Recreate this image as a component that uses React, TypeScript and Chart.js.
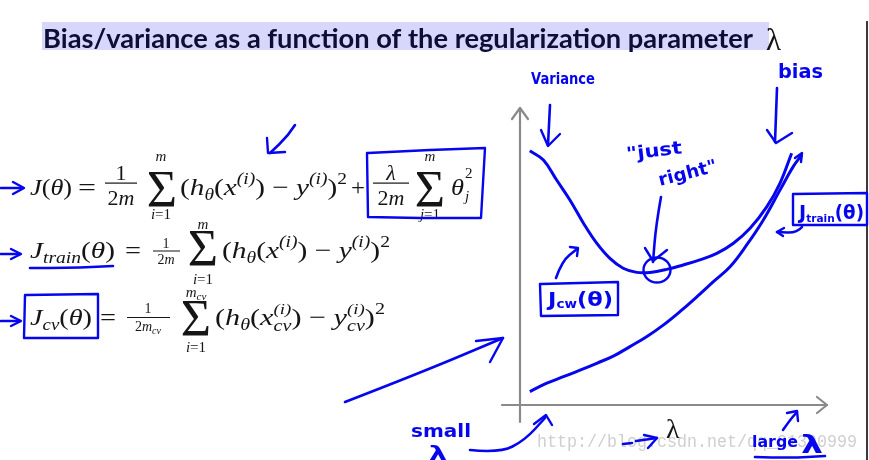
import { useEffect, useRef } from "react";
import { Chart, registerables } from "chart.js";

Chart.register(...registerables);

// J_cv(θ) curve: regularization parameter λ (relative units) vs error
const cvLambda = [3.2, 7.6, 11.9, 16.2, 20.6, 24.9, 29.2, 33.5, 37.9, 42.2, 47.6, 53.0, 58.4, 63.9, 69.3, 74.7, 80.1, 84.4, 88.2];
const cvError = [85.3, 82.2, 75.5, 68.8, 61.0, 54.3, 49.2, 45.9, 44.5, 44.5, 45.5, 47.0, 48.7, 50.9, 54.3, 59.3, 66.5, 74.4, 84.5];

// J_train(θ) curve
const trainLambda = [3.2, 8.7, 14.1, 19.5, 24.9, 30.3, 35.7, 41.1, 46.5, 51.9, 57.4, 62.8, 68.2, 73.6, 79.0, 84.4, 88.7, 91.5];
const trainError = [4.5, 7.3, 9.5, 11.7, 14.0, 16.4, 19.6, 22.9, 26.8, 31.3, 36.3, 41.4, 46.4, 53.7, 62.1, 72.1, 80.0, 83.9];

const TITLE = "Bias/variance as a function of the regularization parameter";
const WATERMARK = "http://blog.csdn.net/qq_31390999";

const SERIF = "'Liberation Serif', 'DejaVu Serif', serif";
const HAND = "'DejaVu Sans', sans-serif";
const TITLE_FONT = "Lato, 'Open Sans', sans-serif";
const BLUE = "#0606ee";
const INK = "#151515";
const AXIS = "#8a8a8a";

type Seg = [string, number, number?, number?, number?];

function segFont(s: Seg, fam: string, weight: string) {
  return `${s[2] ? "italic " : ""}${weight}${s[1]}px ${fam}`;
}

function widths(ctx: CanvasRenderingContext2D, segs: Seg[], fam: string, weight: string) {
  return segs.map((s) => {
    ctx.font = segFont(s, fam, weight);
    return ctx.measureText(s[0]).width * (s[4] === undefined ? 1 : s[4]);
  });
}

function run(ctx: CanvasRenderingContext2D, segs: Seg[], x0: number, x1: number | null, base: number, fam = SERIF, weight = "") {
  const ws = widths(ctx, segs, fam, weight);
  const total = ws.reduce((a, b) => a + b, 0);
  const k = x1 === null ? 1 : (x1 - x0) / total;
  ctx.save();
  ctx.translate(x0, base);
  ctx.scale(k, 1);
  ctx.textAlign = "left";
  ctx.textBaseline = "alphabetic";
  let x = 0;
  segs.forEach((s, i) => {
    ctx.font = segFont(s, fam, weight);
    ctx.fillText(s[0], x, s[3] || 0);
    x += ws[i];
  });
  ctx.restore();
}

function runC(ctx: CanvasRenderingContext2D, segs: Seg[], cx: number, base: number, fam = SERIF, weight = "") {
  const total = widths(ctx, segs, fam, weight).reduce((a, b) => a + b, 0);
  run(ctx, segs, cx - total / 2, null, base, fam, weight);
}

function sigma(ctx: CanvasRenderingContext2D, cx: number, base: number) {
  ctx.save();
  ctx.font = `52px ${SERIF}`;
  ctx.textAlign = "center";
  ctx.fillText("Σ", cx, base);
  ctx.restore();
}

function stroke(ctx: CanvasRenderingContext2D, p: number[], w = 2.6, color = BLUE) {
  ctx.save();
  ctx.strokeStyle = color;
  ctx.lineWidth = w;
  ctx.lineCap = "round";
  ctx.lineJoin = "round";
  ctx.beginPath();
  ctx.moveTo(p[0], p[1]);
  if (p.length <= 4) {
    ctx.lineTo(p[2], p[3]);
  } else {
    for (let i = 2; i < p.length - 2; i += 2) {
      const mx = (p[i] + p[i + 2]) / 2;
      const my = (p[i + 1] + p[i + 3]) / 2;
      ctx.quadraticCurveTo(p[i], p[i + 1], mx, my);
    }
    ctx.lineTo(p[p.length - 2], p[p.length - 1]);
  }
  ctx.stroke();
  ctx.restore();
}

function poly(ctx: CanvasRenderingContext2D, p: number[], w = 2.4, color = BLUE) {
  ctx.save();
  ctx.strokeStyle = color;
  ctx.lineWidth = w;
  ctx.lineCap = "round";
  ctx.lineJoin = "round";
  ctx.beginPath();
  ctx.moveTo(p[0], p[1]);
  for (let i = 2; i < p.length; i += 2) ctx.lineTo(p[i], p[i + 1]);
  ctx.stroke();
  ctx.restore();
}

function hand(ctx: CanvasRenderingContext2D, text: string, x: number, base: number, size: number, maxW: number, rot = 0) {
  ctx.save();
  ctx.fillStyle = BLUE;
  ctx.font = `bold ${size}px ${HAND}`;
  ctx.translate(x, base);
  ctx.rotate(rot);
  const w = ctx.measureText(text).width;
  ctx.scale(maxW / w, 1);
  ctx.fillText(text, 0, 0);
  ctx.restore();
}

const supI = (size: number, dy: number, adv = 1): Seg => ["(i)", size, 1, dy, adv];

const decoPlugin = {
  id: "deco",
  beforeDatasetsDraw(chart: any) {
    const ctx: CanvasRenderingContext2D = chart.ctx;
    const ca = chart.chartArea;
    ctx.save();
    // title
    ctx.fillStyle = "#d7d7fb";
    ctx.fillRect(42, 22, 727, 28);
    ctx.fillStyle = "#0d0d35";
    run(ctx, [[TITLE, 26]], 43, 753, 48, TITLE_FONT, "bold ");
    ctx.fillStyle = INK;
    ctx.font = `31px ${SERIF}`;
    ctx.fillText("λ", 766, 50);

    // right frame line
    ctx.fillStyle = "#3a3a3a";
    ctx.fillRect(866, 21, 2, 439);

    // formulas
    ctx.fillStyle = INK;
    // line 1
    run(ctx, [["J", 24, 1], ["(", 24], ["θ", 24, 1], [")", 24]], 30, 72, 195);
    run(ctx, [["=", 24]], 78, 96, 195);
    runC(ctx, [["1", 22]], 121, 180);
    ctx.fillRect(105, 182.5, 32, 1.2);
    runC(ctx, [["2", 22], ["m", 22, 1]], 121, 205);
    sigma(ctx, 162, 207);
    runC(ctx, [["m", 15, 1]], 161, 161);
    runC(ctx, [["i", 15, 1], ["=1", 15]], 161, 219);
    const rest1: Seg[] = [["(", 24], ["h", 24, 1], ["θ", 16, 1, 5], ["(", 24], ["x", 24, 1], supI(16, -11), [")", 24], [" − ", 24], ["y", 24, 1], supI(16, -11), [")", 24], ["2", 16, 0, -11]];
    run(ctx, rest1, 180, 347, 195);
    run(ctx, [["+", 24]], 351, 365, 195);
    runC(ctx, [["λ", 22, 1]], 391, 180);
    ctx.fillRect(373, 182.5, 36, 1.2);
    runC(ctx, [["2", 22], ["m", 22, 1]], 391, 205);
    sigma(ctx, 430, 207);
    runC(ctx, [["m", 15, 1]], 430, 161);
    runC(ctx, [["j", 15, 1], ["=1", 15]], 430, 219);
    run(ctx, [["θ", 24, 1]], 451, 464, 195);
    run(ctx, [["2", 15]], 465, null, 178);
    run(ctx, [["j", 15, 1]], 465, null, 201);

    // line 2
    run(ctx, [["J", 24, 1], ["train", 16, 1, 5], ["(", 24], ["θ", 24, 1], [")", 24]], 30, 115, 258);
    run(ctx, [["=", 24]], 125, 141, 258);
    runC(ctx, [["1", 14]], 166, 248);
    ctx.fillRect(153, 250.5, 27, 1);
    runC(ctx, [["2", 14], ["m", 14, 1]], 166, 264);
    sigma(ctx, 203, 266);
    runC(ctx, [["m", 15, 1]], 203, 229);
    runC(ctx, [["i", 15, 1], ["=1", 15]], 203, 284);
    run(ctx, rest1, 222, 390, 258);

    // line 3
    run(ctx, [["J", 24, 1], ["cv", 16, 1, 5], ["(", 24], ["θ", 24, 1], [")", 24]], 30, 92, 325);
    run(ctx, [["=", 24]], 100, 116, 325);
    runC(ctx, [["1", 14]], 148, 313);
    ctx.fillRect(127, 317, 43, 1);
    runC(ctx, [["2", 14], ["m", 14, 1], ["cv", 10, 1, 3]], 148, 331);
    sigma(ctx, 196, 336);
    runC(ctx, [["m", 15, 1], ["cv", 11, 1, 3]], 196, 297);
    runC(ctx, [["i", 15, 1], ["=1", 15]], 196, 352);
    const rest3: Seg[] = [["(", 24], ["h", 24, 1], ["θ", 16, 1, 5], ["(", 24], ["x", 24, 1], supI(15, -11, 0), ["cv", 16, 1, 6], [")", 24], [" − ", 24], ["y", 24, 1], supI(15, -11, 0), ["cv", 16, 1, 6], [")", 24], ["2", 16, 0, -11]];
    run(ctx, rest3, 215, 385, 325);

    // watermark
    ctx.fillStyle = "#cfcfcf";
    run(ctx, [[WATERMARK, 18]], 537, 857, 447, "'Liberation Mono', 'DejaVu Sans Mono', monospace");

    // axes
    poly(ctx, [ca.left, 422, ca.left, ca.top + 1], 2.2, AXIS);
    poly(ctx, [ca.left - 8, ca.top + 12, ca.left, ca.top + 1, ca.left + 8, ca.top + 12], 2.2, AXIS);
    poly(ctx, [502, ca.bottom, ca.right - 1, ca.bottom], 2.2, AXIS);
    poly(ctx, [ca.right - 11, ca.bottom - 8, ca.right - 1, ca.bottom, ca.right - 11, ca.bottom + 8], 2.2, AXIS);
    // λ axis label
    ctx.fillStyle = INK;
    ctx.font = `28px ${SERIF}`;
    ctx.fillText("λ", 666, 438);
    ctx.restore();
  },
  afterDatasetsDraw(chart: any) {
    const ctx: CanvasRenderingContext2D = chart.ctx;
    ctx.save();
    // left arrows
    stroke(ctx, [1, 188, 23, 188]);
    poly(ctx, [13, 182, 24, 188, 13, 194]);
    stroke(ctx, [1, 254, 20, 254]);
    poly(ctx, [11, 249, 21, 254, 11, 259]);
    stroke(ctx, [1, 321, 20, 321]);
    poly(ctx, [11, 316, 21, 321, 11, 326]);
    // arrow above formula
    stroke(ctx, [295, 125, 288, 136, 270, 153]);
    poly(ctx, [267, 138, 268, 153, 285, 152]);
    // box around regularization
    poly(ctx, [368, 153, 430, 150, 485, 148, 481, 218, 420, 218, 368, 217, 367, 153]);
    // underline J_train
    stroke(ctx, [30, 268, 70, 268, 113, 266]);
    // box J_cv
    poly(ctx, [26, 295, 98, 294, 98, 338, 24, 338, 25, 295]);
    // big diagonal arrow
    stroke(ctx, [345, 402, 420, 373, 503, 338]);
    poly(ctx, [476, 341, 503, 338, 490, 362]);

    // variance / bias
    hand(ctx, "Variance", 531, 84, 16, 64);
    stroke(ctx, [550, 105, 549, 125, 548, 145]);
    poly(ctx, [541, 130, 548, 146, 560, 134]);
    hand(ctx, "bias", 778, 78, 19, 45);
    stroke(ctx, [777, 88, 776, 115, 775, 142]);
    poly(ctx, [767, 130, 776, 143, 792, 133]);

    // just right
    hand(ctx, "\"just", 627, 160, 18, 56, -0.12);
    hand(ctx, "right\"", 660, 186, 18, 60, -0.25);
    stroke(ctx, [661, 197, 656, 225, 653, 262]);
    poly(ctx, [645, 248, 653, 261, 667, 250]);
    ctx.strokeStyle = BLUE;
    ctx.lineWidth = 2.4;
    ctx.beginPath();
    ctx.ellipse(657, 270, 13.5, 12.5, 0, 0, Math.PI * 2);
    ctx.stroke();

    // J_cv label box
    poly(ctx, [541, 284, 618, 282, 618, 315, 541, 316, 540, 284]);
    ctx.fillStyle = BLUE;
    run(ctx, [["J", 20], ["cw", 12, 0, 2], ["(θ)", 20]], 548, 613, 306, HAND, "bold ");
    stroke(ctx, [556, 278, 562, 261, 577, 249]);
    poly(ctx, [570, 247, 578, 248, 577, 256]);

    // J_train label box
    poly(ctx, [793, 194, 867, 193, 867, 225, 793, 225, 793, 194]);
    run(ctx, [["J", 20], ["train", 11, 0, 3], ["(θ)", 19]], 799, 864, 219, HAND, "bold ");
    stroke(ctx, [802, 227, 797, 233, 777, 232]);
    poly(ctx, [784, 228, 777, 232, 783, 236]);
    poly(ctx, [795, 158, 802, 153, 801, 162]);

    // small λ
    hand(ctx, "small", 411, 437, 17, 60);
    hand(ctx, "λ", 429, 460, 20, 18);
    stroke(ctx, [470, 450, 500, 453, 525, 440, 545, 418]);
    poly(ctx, [534, 424, 546, 415, 552, 425]);
    stroke(ctx, [623, 444, 632, 443]);
    stroke(ctx, [636, 441, 657, 438]);
    poly(ctx, [644, 435, 657, 438, 648, 448]);

    // large λ
    hand(ctx, "large", 752, 447, 15, 46);
    hand(ctx, "λ", 801, 453, 24, 22);
    stroke(ctx, [755, 457, 790, 458, 825, 456]);
    stroke(ctx, [783, 430, 790, 420, 797, 412]);
    poly(ctx, [787, 413, 797, 411, 798, 421]);
    ctx.restore();
  },
};

export default function App() {
  const ref = useRef<HTMLCanvasElement>(null);
  useEffect(() => {
    if (!ref.current) return;
    const chart = new Chart(ref.current, {
      type: "line",
      data: {
        datasets: [
          {
            label: "Jcv(θ)",
            data: cvLambda.map((x, i) => ({ x, y: cvError[i] })),
            borderColor: BLUE,
            borderWidth: 3,
            pointRadius: 0,
            tension: 0.4,
            fill: false,
          },
          {
            label: "Jtrain(θ)",
            data: trainLambda.map((x, i) => ({ x, y: trainError[i] })),
            borderColor: BLUE,
            borderWidth: 3,
            pointRadius: 0,
            tension: 0.4,
            fill: false,
          },
        ],
      },
      options: {
        responsive: false,
        animation: false,
        devicePixelRatio: 1,
        layout: { padding: { left: 520, right: 41, top: 107, bottom: 55 } },
        plugins: { legend: { display: false }, tooltip: { enabled: false }, title: { display: false } },
        scales: {
          x: { type: "linear", min: 0, max: 100, display: false },
          y: { type: "linear", min: 0, max: 100, display: false },
        },
      },
      plugins: [decoPlugin],
    });
    return () => chart.destroy();
  }, []);
  return (
    <div style={{ position: "absolute", left: 0, top: 0, width: 869, height: 460, background: "#fff" }}>
      <canvas ref={ref} width={869} height={460} style={{ display: "block" }} />
    </div>
  );
}
